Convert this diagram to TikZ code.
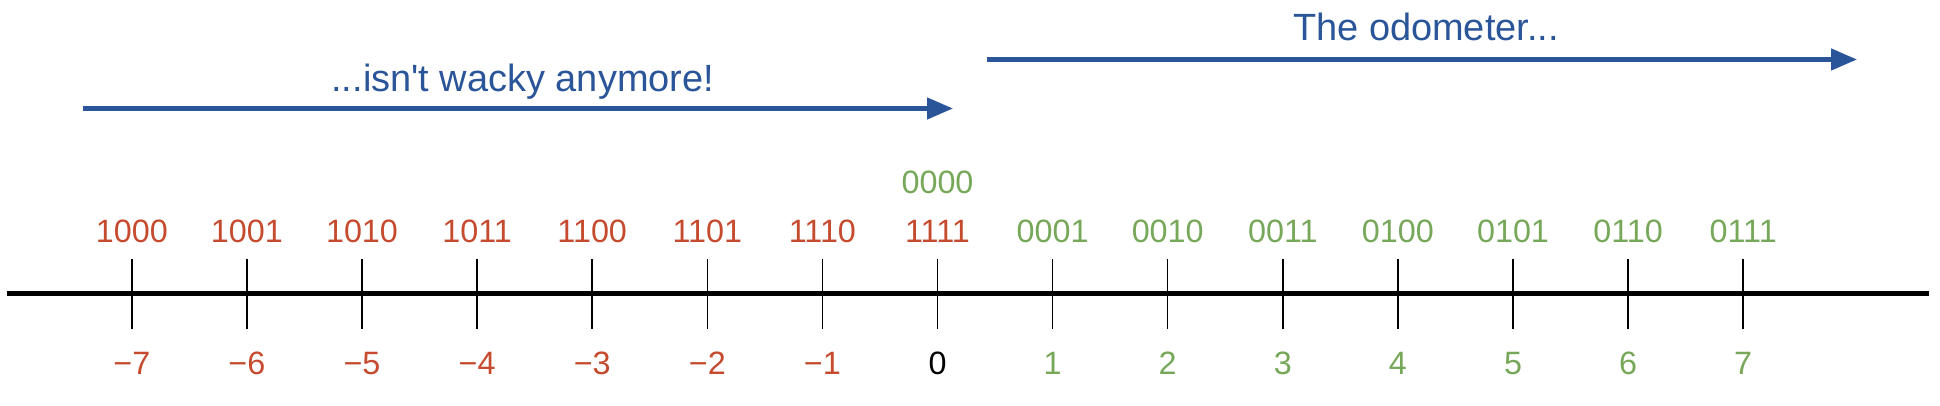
\documentclass[tikz,border=0pt]{standalone}
\usepackage{fontspec}
\setmainfont{Liberation Sans}[Ligatures=TeXOff]
\usetikzlibrary{positioning, arrows.meta}

\definecolor{negred}{HTML}{C64B2E}
\definecolor{posgreen}{HTML}{77A85A}
\definecolor{capblue}{HTML}{2A5599}

\begin{document}
\begin{tikzpicture}[
    axis/.style={line width=2.85pt, black},
    tick/.style={line width=0.85pt, black},
    bits/.style={font=\fontsize{18.4}{20}\selectfont, anchor=base},
    caption/.style={font=\fontsize{21.6}{24}\selectfont, text=capblue, anchor=base},
    arrow/.style={-{Triangle[length=0.52cm, width=0.42cm]}, line width=2.6pt, draw=capblue}
  ]
    \useasboundingbox (0,0) rectangle (38.8,8.12);

    % Number line
    \coordinate (axL) at (0.15,2.24);
    \coordinate (axR) at (38.58,2.24);
    \draw[axis] (axL) -- (axR);

    % Ticks, bit patterns above and values below
    \foreach \b/\bc/\d/\dc [count=\k from 0] in {
        1000/negred/−7/negred, 1001/negred/−6/negred, 1010/negred/−5/negred,
        1011/negred/−4/negred, 1100/negred/−3/negred, 1101/negred/−2/negred,
        1110/negred/−1/negred, 1111/negred/0/black,
        0001/posgreen/1/posgreen, 0010/posgreen/2/posgreen, 0011/posgreen/3/posgreen,
        0100/posgreen/4/posgreen, 0101/posgreen/5/posgreen, 0110/posgreen/6/posgreen,
        0111/posgreen/7/posgreen} {
      \coordinate (t\k) at (2.636+2.302*\k,2.24);
      \draw[tick] (t\k) ++(0,0.7) -- ++(0,-1.4);
      \node[bits, text=\bc] (b\k) at (2.636+2.302*\k,3.266) {\b};
      \node[bits, text=\dc] (d\k) at (2.636+2.302*\k,0.62) {\d};
    }

    % Second pattern for zero
    \node[bits, text=posgreen, yshift=0.988cm] (bz) at (b7.base) {0000};

    % Arrows with captions
    \coordinate (negL) at (1.65,5.95);
    \coordinate (negR) at (19.06,5.95);
    \coordinate (posL) at (19.74,6.93);
    \coordinate (posR) at (37.14,6.93);
    \draw[arrow] (negL) -- node[caption, yshift=0.33cm, xshift=0.1cm] (negcap) {...isn't wacky anymore!} (negR);
    \draw[arrow] (posL) -- node[caption, yshift=0.37cm, xshift=0.08cm] (poscap) {The odometer...} (posR);
  \end{tikzpicture}
\end{document}
